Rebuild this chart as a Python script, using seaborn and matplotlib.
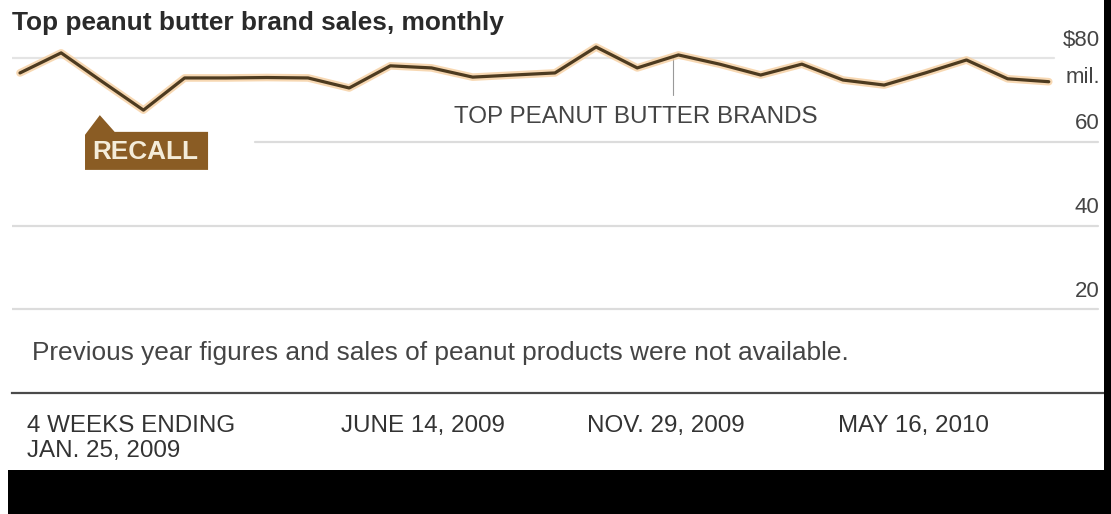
import matplotlib
matplotlib.use("Agg")
import matplotlib.pyplot as plt
from matplotlib.patches import Rectangle, Polygon
import seaborn as sns
import pandas as pd

# Monthly (4-week) sales of the top peanut butter brands, $ millions
sales = [76.5, 81.3, 74.4, 67.6, 75.3, 75.3, 75.4, 75.3, 72.9, 78.2,
         77.7, 75.5, 76.0, 76.5, 82.7, 77.7, 80.8, 78.6, 76.0, 78.6,
         74.8, 73.6, 76.5, 79.6, 75.1, 74.4]
periods = list(range(len(sales)))

date_labels = ["4 WEEKS ENDING\nJAN. 25, 2009", "JUNE 14, 2009",
               "NOV. 29, 2009", "MAY 16, 2010"]
major_periods = [2, 8, 14, 20]
y_ticks = [20, 40, 60, 80]
y_tick_labels = ["20", "40", "60", "$80"]

df = pd.DataFrame({"period": periods, "sales": sales})

sns.set_style("white")
plt.rcParams["font.family"] = ["Liberation Sans", "DejaVu Sans"]

W, H = 1111, 514
fig = plt.figure(figsize=(W / 100, H / 100), dpi=100)
fig.patch.set_facecolor("white")

ax_left, ax_right, ax_bottom_px = 12, 1103, 392.7
ax = fig.add_axes([ax_left / W, (H - ax_bottom_px) / H,
                   (ax_right - ax_left) / W, ax_bottom_px / H])
px_per_period = 41.15
px_per_unit = 4.18
ax.set_xlim((ax_left - 20) / px_per_period, (ax_right - 20) / px_per_period)
ax.set_ylim(0, ax_bottom_px / px_per_unit)

label_col = "#444444"
label_size = 16

# light horizontal guides
grid_col = "#dcdcdc"
ax.axhline(20, 0, 0.995, color=grid_col, lw=1.6, zorder=1)
ax.axhline(40, 0, 0.995, color=grid_col, lw=1.6, zorder=1)
ax.axhline(60, 0.223, 0.995, color=grid_col, lw=1.6, zorder=1)
ax.axhline(80, 0, 0.955, color="#e4e4e4", lw=1.6, zorder=1)

# value labels on the right
ytr = ax.get_yaxis_transform()
for v, lab in zip(y_ticks, y_tick_labels):
    ax.annotate(lab, xy=(0.997, v), xycoords=ytr, xytext=(0, 13),
                textcoords="offset points", ha="right", va="center",
                fontsize=label_size, color=label_col)
ax.annotate("mil.", xy=(0.997, 80), xycoords=ytr, xytext=(0, -13.5),
            textcoords="offset points", ha="right", va="center",
            fontsize=label_size, color=label_col)

# series: soft orange halo under a dark brown line
sns.lineplot(data=df, x="period", y="sales", ax=ax, color="#f6cfa0",
             lw=5.5, alpha=0.8, zorder=3, legend=False)
sns.lineplot(data=df, x="period", y="sales", ax=ax, color="#4d3b20",
             lw=2.3, zorder=4, legend=False)

# series label with leader
ax.plot([15.87, 15.87], [71.2, 80.3], color="#999999", lw=0.8, zorder=2)
ax.text(14.97, 66.0, "TOP PEANUT BUTTER BRANDS", ha="center", va="center",
        fontsize=17.4, color=label_col)

# recall marker
recall_shape = [(1.58, 53.3), (1.58, 61.7), (1.94, 66.4), (2.3, 62.4),
                (4.57, 62.4), (4.57, 53.3)]
ax.add_patch(Polygon(recall_shape, closed=True, facecolor="#8a5c24",
                     edgecolor="none", zorder=5))
ax.text(3.04, 57.6, "RECALL", ha="center", va="center", fontsize=18.8,
        fontweight="bold", color="#f4ecd9", zorder=6)

# note inside the plot area
ax.text(0.3, 9.5, "Previous year figures and sales of peanut products were not available.",
        ha="left", va="center", fontsize=18.9, color=label_col)

# x axis: baseline with short minor ticks and longer major ticks
for side in ["top", "left", "right"]:
    ax.spines[side].set_visible(False)
ax.spines["bottom"].set_color("#4a4a4a")
ax.spines["bottom"].set_linewidth(1.6)
ax.set_xticks(major_periods)
ax.set_xticks(list(range(0, 27)), minor=True)
ax.tick_params(axis="x", which="major", length=12, width=0.8, color="#b5b5b5",
               labelbottom=False, direction="out")
ax.tick_params(axis="x", which="minor", length=5, width=0.8, color="#c8c8c8",
               direction="out")
ax.set_yticks([])
ax.set_xlabel("")
ax.set_ylabel("")

xtr = ax.get_xaxis_transform()
label_x = [0.17, 7.8, 13.78, 19.88]
for x, lab in zip(label_x, date_labels):
    ax.text(x, -0.058, lab, transform=xtr, ha="left", va="top",
            fontsize=17.4, color="#333333", linespacing=1.17)

# title
fig.text(12 / W, (H - 23) / H, "Top peanut butter brand sales, monthly",
         ha="left", va="center", fontsize=18.9, fontweight="bold", color="#2a2a2a")

# dark frame pieces along the bottom and right edges
fig.add_artist(Rectangle((8 / W, 0), 1 - 8 / W, 44 / H, transform=fig.transFigure,
                         facecolor="black", edgecolor="none", zorder=10))
fig.add_artist(Rectangle((1104 / W, 0), 7 / W, 1, transform=fig.transFigure,
                         facecolor="black", edgecolor="none", zorder=10))

fig.savefig("out.png", dpi=100, facecolor="white")
